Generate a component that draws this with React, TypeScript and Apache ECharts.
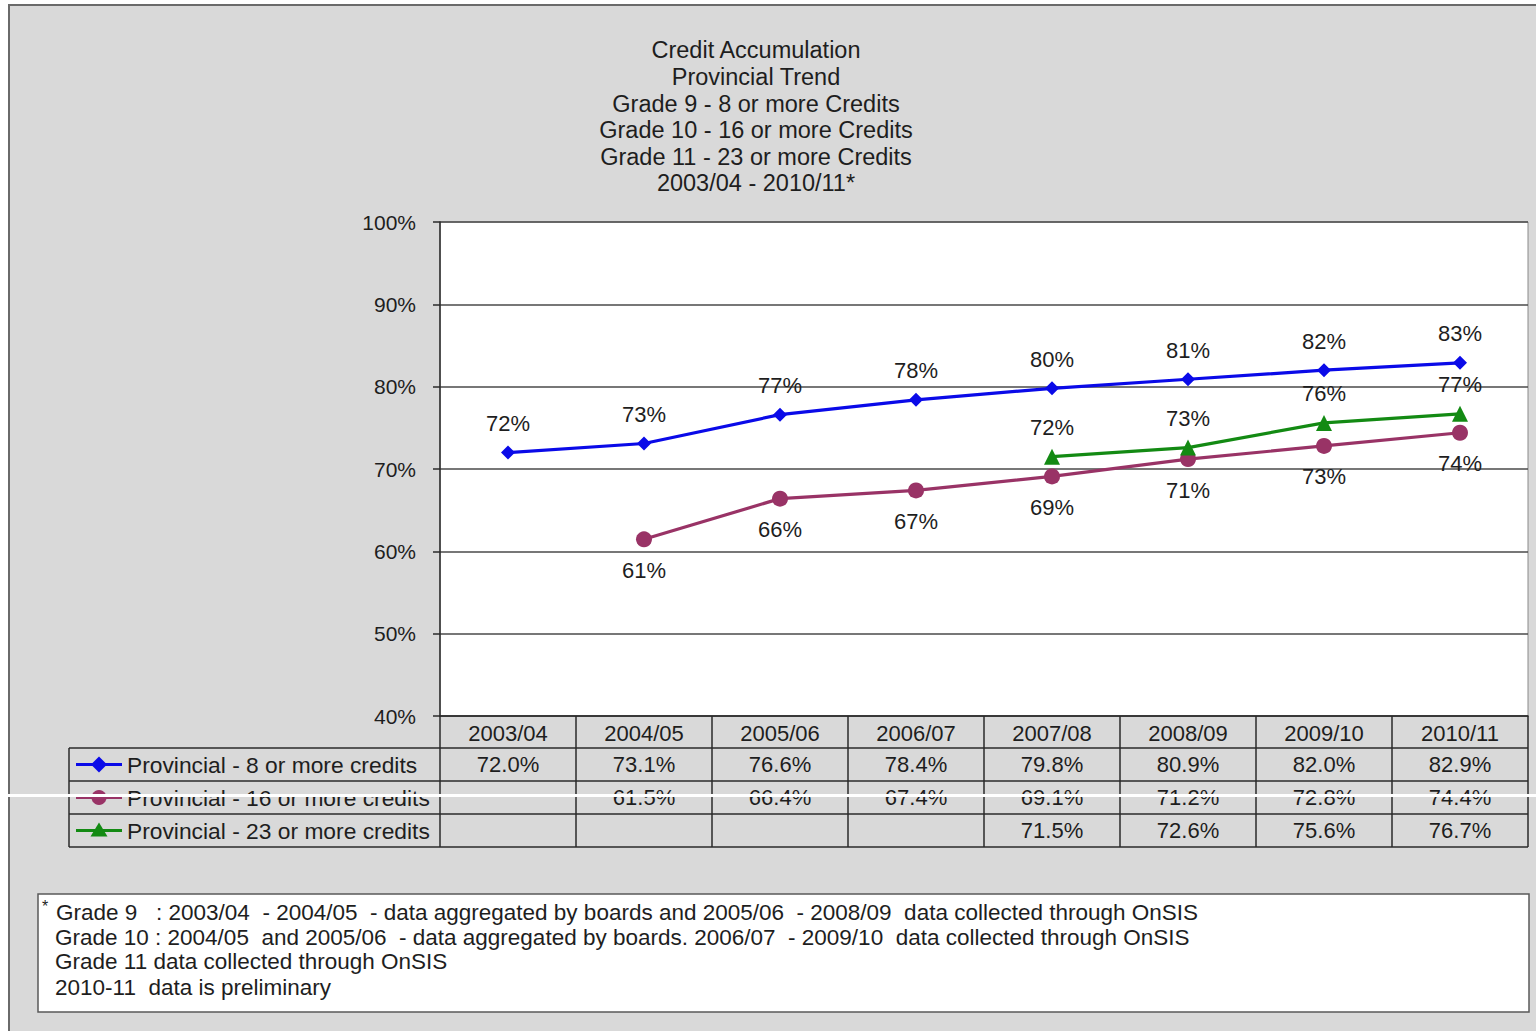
import React, { useEffect, useRef } from 'react';
import * as echarts from 'echarts';

const categories = ['2003/04', '2004/05', '2005/06', '2006/07', '2007/08', '2008/09', '2009/10', '2010/11'];
const seriesNames = [
  'Provincial - 8 or more credits',
  'Provincial - 16 or more credits',
  'Provincial - 23 or more credits',
];
const grade9 = [72.0, 73.1, 76.6, 78.4, 79.8, 80.9, 82.0, 82.9];
const grade10 = [null, 61.46, 66.4, 67.4, 69.1, 71.2, 72.8, 74.4];
const grade11 = [null, null, null, null, 71.5, 72.6, 75.6, 76.7];
const seriesColors = ['#0a0ae8', '#993366', '#138a13'];
const seriesSymbols = ['diamond', 'circle', 'triangle'];

const titleLines = [
  'Credit Accumulation',
  'Provincial Trend',
  'Grade 9 - 8 or more Credits',
  'Grade 10 - 16 or more Credits',
  'Grade 11 - 23 or more Credits',
  '2003/04 - 2010/11*',
];
const footnoteLines = [
  'Grade 9   : 2003/04  - 2004/05  - data aggregated by boards and 2005/06  - 2008/09  data collected through OnSIS',
  'Grade 10 : 2004/05  and 2005/06  - data aggregated by boards. 2006/07  - 2009/10  data collected through OnSIS',
  'Grade 11 data collected through OnSIS',
  '2010-11  data is preliminary',
];

const Y_MIN = 40;
const Y_MAX = 100;
const Y_STEP = 10;

export default function App() {
  const ref = useRef<HTMLDivElement>(null);

  useEffect(() => {
    const el = ref.current;
    if (!el) return;
    const chart = echarts.init(el, null, { renderer: 'svg' });
    const font = "'Liberation Sans', Arial, sans-serif";
    const txt = '#1e1e1e';
    const allSeries = [grade9, grade10, grade11];
    const labelPos = ['top', 'bottom', 'top'];
    const labelDist = [11, 12, 10];
    const symSize = [14, 16, 16];

    chart.setOption({
      animation: false,
      backgroundColor: '#ffffff',
      textStyle: { fontFamily: font },
      title: {
        text: titleLines.join('\n'),
        left: 751,
        top: 32,
        textAlign: 'center',
        textStyle: { fontFamily: font, fontSize: 23.5, fontWeight: 'normal', color: txt, lineHeight: 26.6 },
      },
      grid: {
        left: 440,
        right: 8,
        top: 222,
        bottom: 315,
        show: true,
        backgroundColor: '#ffffff',
        borderColor: '#8a8a8a',
        borderWidth: 1,
      },
      xAxis: {
        type: 'category',
        data: categories,
        boundaryGap: true,
        axisLine: { show: true, lineStyle: { color: '#2a2a2a', width: 1.5 } },
        axisTick: { show: true, interval: 0, length: 131, lineStyle: { color: '#2a2a2a', width: 1.5 } },
        axisLabel: { interval: 0, fontSize: 22, color: txt, fontFamily: font, margin: 6 },
        splitLine: { show: false },
      },
      yAxis: {
        type: 'value',
        min: Y_MIN,
        max: Y_MAX,
        interval: Y_STEP,
        axisLine: { show: true, lineStyle: { color: '#2a2a2a', width: 1.5 } },
        axisTick: { show: true, length: 7, lineStyle: { color: '#2a2a2a', width: 1.5 } },
        axisLabel: { formatter: '{value}%', fontSize: 21, color: txt, fontFamily: font, margin: 24 },
        splitLine: { show: true, lineStyle: { color: '#4a4a4a', width: 1.5 } },
      },
      series: allSeries.map((d, i) => ({
        type: 'line',
        name: seriesNames[i],
        data: d,
        connectNulls: false,
        symbol: seriesSymbols[i],
        symbolSize: symSize[i],
        itemStyle: { color: seriesColors[i] },
        lineStyle: { color: seriesColors[i], width: 3.2 },
        label: {
          show: true,
          position: labelPos[i],
          distance: labelDist[i],
          fontSize: 22,
          color: txt,
          fontFamily: font,
          formatter: (p: any) => `${Math.round(p.value)}%`,
        },
        z: 3 + i,
      })),
    });

    // table + decorations based on the axis scale
    const xs = categories.map((c) => chart.convertToPixel({ xAxisIndex: 0 }, c) as number);
    const bandW = xs.length > 1 ? xs[1] - xs[0] : 136;
    const tableRight = xs[xs.length - 1] + bandW / 2;
    const tableLeft = 69;
    const rowTops = [748, 781, 814];
    const rowBottom = 847;
    const rowH = 33;
    const graphics: any[] = [];

    // outer gray frame
    graphics.push({
      type: 'rect',
      z: -10,
      shape: { x: 9, y: 5, width: 1540, height: 1040 },
      style: { fill: '#d9d9d9', stroke: '#6a6a6a', lineWidth: 2 },
      silent: true,
    });

    // table horizontal lines
    [...rowTops, rowBottom].forEach((y) => {
      graphics.push({
        type: 'line',
        shape: { x1: tableLeft, y1: y, x2: tableRight, y2: y },
        style: { stroke: '#2a2a2a', lineWidth: 1.5 },
        silent: true,
      });
    });
    graphics.push({
      type: 'line',
      shape: { x1: tableLeft, y1: rowTops[0], x2: tableLeft, y2: rowBottom },
      style: { stroke: '#2a2a2a', lineWidth: 1.5 },
      silent: true,
    });

    allSeries.forEach((d, si) => {
      const cy = rowTops[si] + rowH / 2;
      // legend key
      graphics.push({
        type: 'line',
        shape: { x1: 76, y1: cy, x2: 122, y2: cy },
        style: { stroke: seriesColors[si], lineWidth: 3.2 },
        silent: true,
      });
      const mx = 99;
      if (seriesSymbols[si] === 'diamond') {
        graphics.push({
          type: 'polygon',
          shape: { points: [[mx, cy - 8], [mx + 8, cy], [mx, cy + 8], [mx - 8, cy]] },
          style: { fill: seriesColors[si] },
          silent: true,
        });
      } else if (seriesSymbols[si] === 'circle') {
        graphics.push({
          type: 'circle',
          shape: { cx: mx, cy, r: 7.5 },
          style: { fill: seriesColors[si] },
          silent: true,
        });
      } else {
        graphics.push({
          type: 'polygon',
          shape: { points: [[mx, cy - 8], [mx + 8.5, cy + 6], [mx - 8.5, cy + 6]] },
          style: { fill: seriesColors[si] },
          silent: true,
        });
      }
      graphics.push({
        type: 'text',
        x: 127,
        y: cy,
        style: { text: seriesNames[si], fontSize: 22.8, fontFamily: font, fill: txt, verticalAlign: 'middle', textAlign: 'left' },
        silent: true,
      });
      d.forEach((v, ci) => {
        if (v === null || v === undefined) return;
        graphics.push({
          type: 'text',
          x: xs[ci],
          y: cy,
          style: {
            text: `${(v as number).toFixed(1)}%`,
            fontSize: 22,
            fontFamily: font,
            fill: txt,
            verticalAlign: 'middle',
            textAlign: 'center',
          },
          silent: true,
        });
      });
    });

    // footnote box
    graphics.push({
      type: 'rect',
      shape: { x: 38, y: 894, width: 1491, height: 118 },
      style: { fill: '#ffffff', stroke: '#5a5a5a', lineWidth: 1.5 },
      silent: true,
    });
    graphics.push({
      type: 'text',
      x: 42,
      y: 906,
      style: { text: '*', fontSize: 16, fontFamily: font, fill: txt, verticalAlign: 'middle', textAlign: 'left' },
      silent: true,
    });
    const footY = [912, 937, 961, 987];
    footnoteLines.forEach((line, i) => {
      graphics.push({
        type: 'text',
        x: i === 0 ? 56 : 55,
        y: footY[i],
        style: { text: line, fontSize: 22.5, fontFamily: font, fill: txt, verticalAlign: 'middle', textAlign: 'left' },
        silent: true,
      });
    });

    // white scan artifact line across the table
    graphics.push({
      type: 'rect',
      z: 50,
      shape: { x: 5, y: 794, width: 1531, height: 3 },
      style: { fill: '#ffffff' },
      silent: true,
    });

    chart.setOption({ graphic: graphics });

    return () => {
      chart.dispose();
    };
  }, []);

  return (
    <div
      ref={ref}
      style={{ position: 'absolute', left: 0, top: 0, width: 1536, height: 1031 }}
    />
  );
}
